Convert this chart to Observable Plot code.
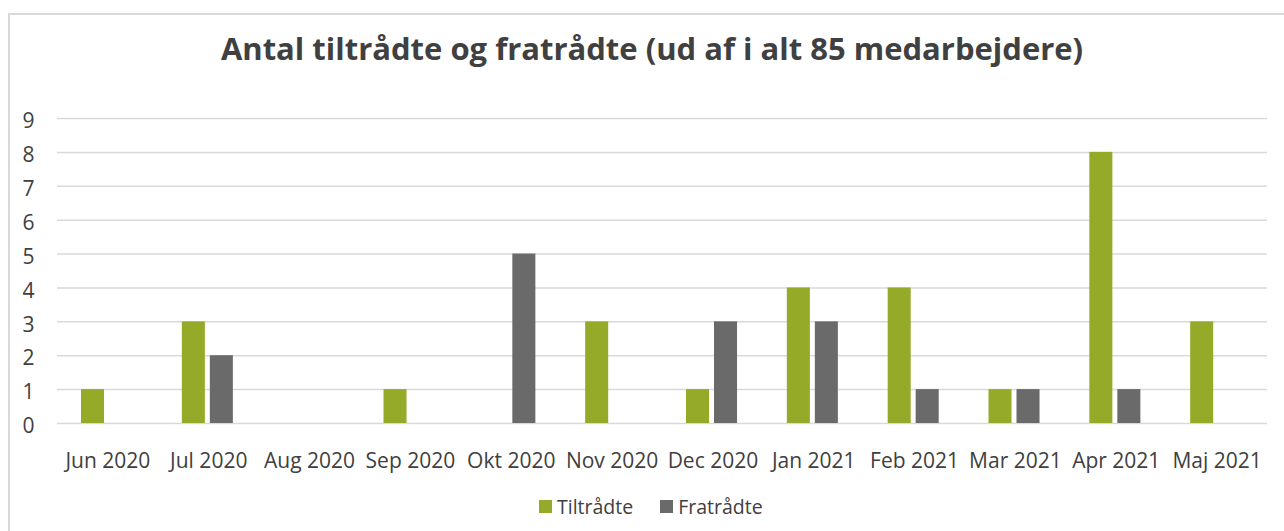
<!DOCTYPE html>
<html>
<head>
<meta charset="utf-8">
<script src="https://cdn.jsdelivr.net/npm/d3@7"></script>
<script src="https://cdn.jsdelivr.net/npm/@observablehq/plot@0.6"></script>
<style>
  html, body { margin: 0; padding: 0; background: #fff; width: 1284px; height: 531px; overflow: hidden; }
  #frame { position: absolute; left: 8px; top: 13px; width: 1290px; height: 540px; border: 2px solid #d9d9d9; box-sizing: border-box; }
  #title { position: absolute; left: 0; width: 1304px; top: 27px; text-align: center; font-family: "Open Sans", sans-serif; font-weight: 700; font-size: 31px; color: #404040; white-space: nowrap; }
  #chart { position: absolute; left: 0; top: 95px; }
  #legend { position: absolute; top: 493px; left: 539px; font-family: "Open Sans", sans-serif; font-size: 19.5px; color: #404040; display: flex; align-items: center; white-space: nowrap; }
  .sw { display: inline-block; width: 13px; height: 13px; margin-right: 5px; }
  .item { display: flex; align-items: center; margin-right: 27px; }
</style>
</head>
<body>
<div id="frame"></div>
<div id="title">Antal tiltrådte og fratrådte (ud af i alt 85 medarbejdere)</div>
<div id="chart"></div>
<div id="legend"></div>
<script>
const months = ["Jun 2020","Jul 2020","Aug 2020","Sep 2020","Okt 2020","Nov 2020","Dec 2020","Jan 2021","Feb 2021","Mar 2021","Apr 2021","Maj 2021"];
const tiltraadte = [1,3,0,1,0,3,1,4,4,1,8,3];
const fratraadte = [0,2,0,0,5,0,3,3,1,1,1,0];
const seriesNames = ["Tiltrådte","Fratrådte"];
const seriesColors = ["#95aa28","#6a6a6a"];
const yTicks = [0,1,2,3,4,5,6,7,8,9];

const dataT = months.map((m,i) => ({month: m, value: tiltraadte[i]}));
const dataF = months.map((m,i) => ({month: m, value: fratraadte[i]}));

const plot = Plot.plot({
  width: 1284,
  height: 390,
  marginLeft: 57,
  marginRight: 17,
  marginTop: 23,
  marginBottom: 62,
  style: {fontFamily: "'Open Sans', sans-serif", fontSize: "21px", color: "#404040", background: "transparent"},
  x: {domain: months, padding: 0, round: false, label: null, axis: null},
  y: {domain: [0,9], label: null, axis: null},
  marks: [
    Plot.ruleY(yTicks, {stroke: "#d9d9d9", strokeWidth: 1.5}),
    Plot.barY(dataT, {x: "month", y: "value", fill: seriesColors[0], insetLeft: 24, insetRight: 53.8}),
    Plot.barY(dataF, {x: "month", y: "value", fill: seriesColors[1], insetLeft: 52, insetRight: 25.8}),
    Plot.axisY(yTicks, {tickSize: 0, tickPadding: 23, fontSize: 21, dy: 3, label: null, tickFormat: d => String(d), color: "#404040"}),
    Plot.axisX(months, {tickSize: 0, tickPadding: 30, fontSize: 21, label: null, color: "#404040"})
  ]
});
document.getElementById("chart").appendChild(plot);

const legend = document.getElementById("legend");
seriesNames.forEach((n,i) => {
  const it = document.createElement("span");
  it.className = "item";
  it.innerHTML = `<span class="sw" style="background:${seriesColors[i]}"></span>${n}`;
  legend.appendChild(it);
});
</script>
</body>
</html>
